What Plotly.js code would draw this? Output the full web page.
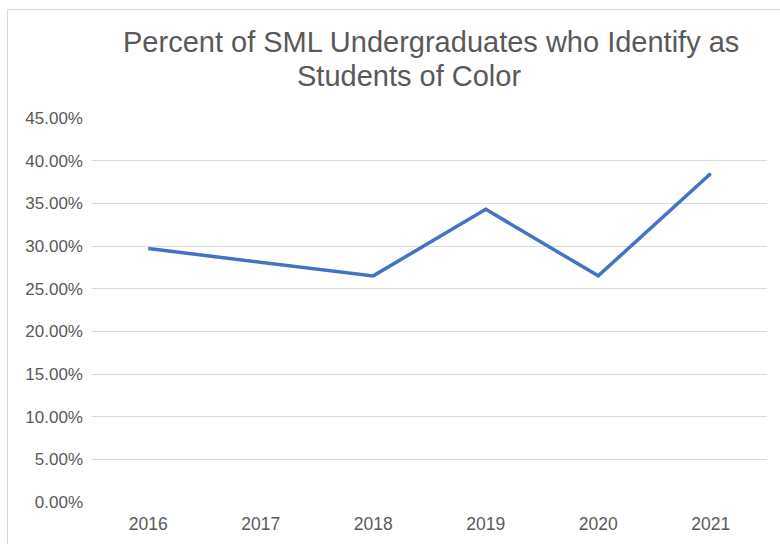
<!DOCTYPE html>
<html>
<head>
<meta charset="utf-8">
<script src="https://cdn.plot.ly/plotly-3.0.1.min.js"></script>
<style>
  html, body { margin: 0; padding: 0; background: #fff; }
  #wrap { position: relative; width: 780px; height: 544px; overflow: hidden; }
  #chart { width: 780px; height: 544px; }
  #frame { position: absolute; left: 7px; top: 9px; width: 800px; height: 600px;
           border-left: 1px solid #d9d9d9; border-top: 1px solid #d9d9d9; pointer-events: none; }
</style>
</head>
<body>
<div id="wrap">
  <div id="chart"></div>
  <div id="frame"></div>
</div>
<script>
const years = ['2016', '2017', '2018', '2019', '2020', '2021'];
const percentStudentsOfColor = [0.297, 0.281, 0.265, 0.343, 0.265, 0.385];
const yTickValues = [0, 0.05, 0.10, 0.15, 0.20, 0.25, 0.30, 0.35, 0.40, 0.45];
const titleLine1 = 'Percent of SML Undergraduates who Identify as';
const titleLine2 = 'Students of Color';

const textColor = '#595959';
const font = 'Liberation Sans, Arial, Helvetica, sans-serif';

const trace = {
  type: 'scatter',
  mode: 'lines',
  x: years,
  y: percentStudentsOfColor,
  line: { color: '#4472C4', width: 3.5 },
  hoverinfo: 'x+y'
};

const layout = {
  width: 780,
  height: 544,
  margin: { l: 92, r: 13, t: 118, b: 42 },
  paper_bgcolor: '#ffffff',
  plot_bgcolor: '#ffffff',
  showlegend: false,
  font: { family: font, color: textColor },
  xaxis: {
    type: 'category',
    range: [-0.5, 5.5],
    showgrid: false,
    zeroline: false,
    showline: false,
    ticks: '',
    ticklabelstandoff: 9,
    tickfont: { family: font, size: 17.5, color: textColor },
    fixedrange: true
  },
  yaxis: {
    range: [0, 0.45],
    tickvals: yTickValues,
    tickformat: '.2%',
    showgrid: true,
    gridcolor: '#d9d9d9',
    gridwidth: 1,
    zeroline: false,
    showline: false,
    ticks: '',
    ticklabelstandoff: 8,
    tickfont: { family: font, size: 17, color: textColor },
    fixedrange: true
  },
  annotations: [
    { text: titleLine1, xref: 'paper', yref: 'paper', x: (431 - 92) / 675, y: 1, yshift: 76,
      xanchor: 'center', yanchor: 'middle', showarrow: false,
      font: { family: font, size: 29, color: textColor } },
    { text: titleLine2, xref: 'paper', yref: 'paper', x: (409 - 92) / 675, y: 1, yshift: 42,
      xanchor: 'center', yanchor: 'middle', showarrow: false,
      font: { family: font, size: 29, color: textColor } }
  ]
};

Plotly.newPlot('chart', [trace], layout, { displayModeBar: false, staticPlot: true });
</script>
</body>
</html>
